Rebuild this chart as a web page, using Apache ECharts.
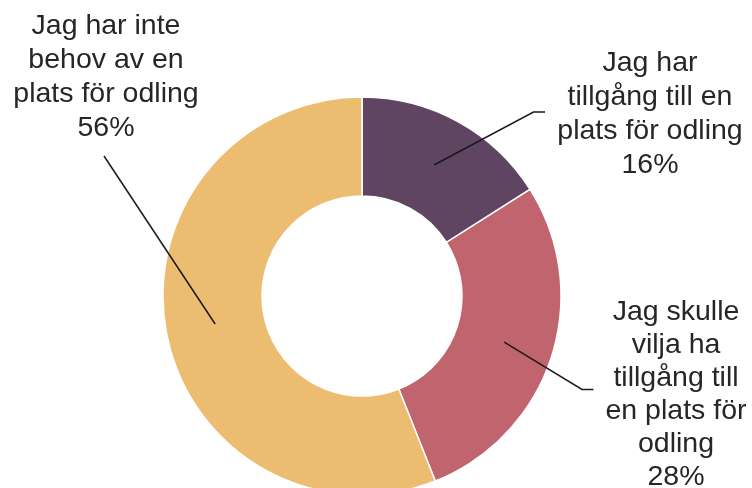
<!DOCTYPE html>
<html>
<head>
<meta charset="utf-8">
<script src="https://cdn.jsdelivr.net/npm/echarts@6/dist/echarts.min.js"></script>
<style>
html,body{margin:0;padding:0;background:#fff;}
#c{width:752px;height:488px;}
</style>
</head>
<body>
<div id="c"></div>
<script>
// ---- data ----
var categories = [
  "Jag har\ntillgång till en\nplats för odling",
  "Jag skulle\nvilja ha\ntillgång till\nen plats för\nodling",
  "Jag har inte\nbehov av en\nplats för odling"
];
var values = [16, 28, 56];
var colors = ["#5F4561", "#C0646D", "#ECBC70"];

// ---- layout (label centres, line heights and leader-line targets, in px) ----
var labelCenters = [[650, 114], [676, 394.5], [106, 77]];
var labelLineHeights = [34, 33, 34];
var lineElbows = [[533.5, 112], [582, 389.5], [104, 156]];
var lineEnds = [[545, 112], [593.5, 389.5], [104, 156]];
var CENTER = [362, 296], R0 = 100, R = 199;

var chart = echarts.init(document.getElementById('c'), null, {renderer: 'canvas'});

function anchorFor(idx) {
  try {
    var data = chart.getModel().getSeriesByIndex(1).getData();
    var l = data.getItemLayout(idx);
    var mid = (l.startAngle + l.endAngle) / 2;
    var rm = (l.r + l.r0) / 2;
    return [l.cx + rm * Math.cos(mid), l.cy + rm * Math.sin(mid)];
  } catch (e) {
    var total = values.reduce(function (a, b) { return a + b; }, 0);
    var acc = 0;
    for (var i = 0; i < idx; i++) acc += values[i];
    var midFrac = (acc + values[idx] / 2) / total;
    var a = -Math.PI / 2 + midFrac * Math.PI * 2;
    var rmm = (R + R0) / 2;
    return [CENTER[0] + rmm * Math.cos(a), CENTER[1] + rmm * Math.sin(a)];
  }
}

var option = {
  backgroundColor: '#ffffff',
  animation: false,
  series: [{
    // slices
    type: 'pie',
    z: 2,
    center: CENTER,
    radius: [R0, R],
    startAngle: 90,
    clockwise: true,
    silent: true,
    itemStyle: {borderColor: '#ffffff', borderWidth: 1.5},
    emphasis: {disabled: true},
    label: {show: false},
    labelLine: {show: false},
    data: categories.map(function (n, i) {
      return {name: n, value: values[i], itemStyle: {color: colors[i]}};
    })
  }, {
    // same slices, transparent, carrying labels + leader lines drawn above
    type: 'pie',
    z: 5,
    center: CENTER,
    radius: [R0, R],
    startAngle: 90,
    clockwise: true,
    silent: true,
    avoidLabelOverlap: false,
    itemStyle: {color: 'rgba(0,0,0,0)', borderWidth: 0},
    emphasis: {disabled: true},
    label: {
      show: true,
      position: 'outside',
      formatter: function (p) { return p.name + '\n' + p.value + '%'; },
      fontFamily: '"Liberation Sans", Arial, sans-serif',
      fontSize: 28.5,
      lineHeight: 34,
      color: '#262626',
      align: 'center'
    },
    labelLine: {
      show: true,
      showAbove: true,
      lineStyle: {color: '#1a1a1a', width: 1.5}
    },
    labelLayout: function (params) {
      var i = params.dataIndex;
      return {
        x: labelCenters[i][0],
        y: labelCenters[i][1],
        align: 'center',
        verticalAlign: 'middle',
        labelLinePoints: [anchorFor(i), lineElbows[i], lineEnds[i]]
      };
    },
    data: categories.map(function (n, i) {
      return {
        name: n, value: values[i],
        itemStyle: {color: 'rgba(0,0,0,0)'},
        label: {lineHeight: labelLineHeights[i]}
      };
    })
  }]
};
chart.setOption(option);
</script>
</body>
</html>
